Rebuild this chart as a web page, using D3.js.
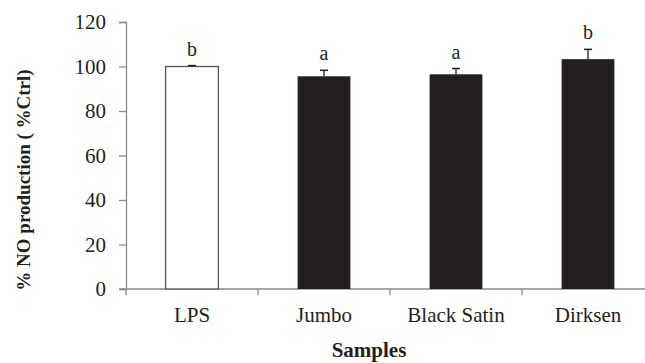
<!DOCTYPE html>
<html lang="en">
<head>
<meta charset="UTF-8">
<title>NO production</title>
<script src="https://d3js.org/d3.v7.min.js"></script>
<style>
  body { margin: 0; background: #fff; }
</style>
</head>
<body>
<svg id="chart" width="645" height="363"></svg>
<script>
const samples = ["LPS", "Jumbo", "Black Satin", "Dirksen"];
const values = [100, 95.6, 96.5, 103.3];
const errors = [0.4, 2.7, 2.6, 4.4];
const letters = ["b", "a", "a", "b"];
const fills = ["#ffffff", "#231f20", "#231f20", "#231f20"];
const yTicks = [0, 20, 40, 60, 80, 100, 120];

const serif = "'Liberation Serif', 'DejaVu Serif', 'Times New Roman', serif";
const svg = d3.select("#chart");
const x0 = 126, bandW = 132, yBottom = 289, yTop = 22;

const x = d3.scaleBand().domain(samples).range([x0, x0 + bandW * samples.length]).paddingInner(0.6).paddingOuter(0.3);
const y = d3.scaleLinear().domain([0, 120]).range([yBottom, yTop]);

// y axis
const yAxis = svg.append("g").attr("transform", `translate(${x0},0)`)
  .call(d3.axisLeft(y).tickValues(yTicks).tickSize(7).tickPadding(13));
yAxis.attr("font-family", null).attr("font-size", null);
yAxis.select(".domain").attr("stroke", "#8a8a8a").attr("stroke-width", 1.3);
yAxis.selectAll(".tick line").attr("stroke", "#8a8a8a").attr("stroke-width", 1.3);
yAxis.selectAll("text").style("font-family", serif).style("font-size", "21px").attr("fill", "#231f20");

// x axis line with boundary ticks
const bounds = d3.range(samples.length + 1).map(i => x0 + i * bandW);
svg.append("line").attr("x1", x0 - 7).attr("x2", bounds[bounds.length - 1])
  .attr("y1", yBottom).attr("y2", yBottom).attr("stroke", "#8a8a8a").attr("stroke-width", 1.3);
svg.selectAll(".xtick").data(bounds).enter().append("line")
  .attr("x1", d => d).attr("x2", d => d).attr("y1", yBottom).attr("y2", yBottom + 6)
  .attr("stroke", "#8a8a8a").attr("stroke-width", 1.3);

// bars
svg.selectAll(".bar").data(samples).enter().append("rect")
  .attr("x", d => x(d)).attr("width", x.bandwidth())
  .attr("y", (d, i) => y(values[i])).attr("height", (d, i) => yBottom - y(values[i]))
  .attr("fill", (d, i) => fills[i])
  .attr("stroke", (d, i) => i === 0 ? "#555" : "none").attr("stroke-width", 1.3);

// error bars (upper only)
samples.forEach((s, i) => {
  const cx = x(s) + x.bandwidth() / 2;
  const top = y(values[i] + errors[i]);
  svg.append("line").attr("x1", cx).attr("x2", cx).attr("y1", y(values[i])).attr("y2", top)
    .attr("stroke", "#231f20").attr("stroke-width", 1.3);
  svg.append("line").attr("x1", cx - 4).attr("x2", cx + 4).attr("y1", top).attr("y2", top)
    .attr("stroke", "#231f20").attr("stroke-width", 1.5);
  svg.append("text").attr("x", cx).attr("y", top - 10).attr("text-anchor", "middle")
    .style("font-family", serif).style("font-size", "20px").attr("fill", "#231f20").text(letters[i]);
});

// category labels
svg.selectAll(".cat").data(samples).enter().append("text")
  .attr("x", d => x(d) + x.bandwidth() / 2).attr("y", 322).attr("text-anchor", "middle")
  .style("font-family", serif).style("font-size", "21px").attr("fill", "#231f20").text(d => d);

// axis titles
svg.append("text").attr("x", 369).attr("y", 357).attr("text-anchor", "middle")
  .style("font-family", serif).style("font-size", "21px").style("font-weight", "bold")
  .attr("fill", "#231f20").text("Samples");
svg.append("text").attr("transform", "translate(30,180) rotate(-90)").attr("text-anchor", "middle")
  .style("font-family", serif).style("font-size", "19px").style("font-weight", "bold")
  .attr("fill", "#231f20").text("% NO production ( %Ctrl)");
</script>
</body>
</html>
